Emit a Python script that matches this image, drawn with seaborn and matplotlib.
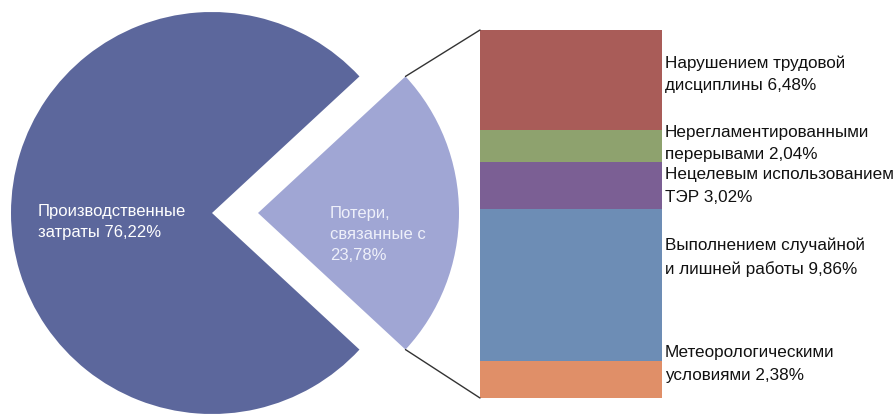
import matplotlib
matplotlib.use("Agg")
import matplotlib.pyplot as plt
from matplotlib.patches import ConnectionPatch
import numpy as np
import seaborn as sns

# --- данные ---
pie_labels = ["Потери,\nсвязанные с\n23,78%", "Производственные\nзатраты 76,22%"]
pie_values = [23.78, 76.22]
pie_colors = ["#a0a6d4", "#5c679c"]

seg_labels = [
    "Метеорологическими\nусловиями 2,38%",
    "Выполнением случайной\nи лишней работы 9,86%",
    "Нецелевым использованием\nТЭР 3,02%",
    "Нерегламентированными\nперерывами 2,04%",
    "Нарушением трудовой\nдисциплины 6,48%",
]
seg_values = [2.38, 9.86, 3.02, 2.04, 6.48]
seg_colors = ["#e08f68", "#6d8db5", "#7b5f94", "#8ea26e", "#a95c58"]
label_y = [2.2, 9.1, 13.7, 16.45, 20.9]

sns.set_theme(style="white")
plt.rcParams["font.family"] = ["Liberation Sans Narrow", "Liberation Sans", "DejaVu Sans"]

W, H = 896, 419
fig = plt.figure(figsize=(W / 100, H / 100), dpi=100)

# =============================================================
# Круговая диаграмма
# =============================================================
R = 201.0
cx, cy = 212.0, 206.0
explode = 46.0 / R
ax_pie = fig.add_axes([0, 0, 1, 1])
half = pie_values[0] / 100 * 360 / 2
wedges, _ = ax_pie.pie(pie_values, colors=pie_colors, startangle=-half,
                       explode=[explode, 0], radius=1,
                       wedgeprops=dict(linewidth=0))
ax_pie.set_xlim(-cx / R, (W - cx) / R)
ax_pie.set_ylim(-cy / R, (H - cy) / R)
ax_pie.set_aspect("auto")
ax_pie.axis("off")

ax_pie.text(-0.866, -0.045, pie_labels[1], color="white", fontsize=12,
            ha="left", va="center", linespacing=1.5)
ax_pie.text(0.587, -0.105, pie_labels[0], color="#eef0fa", fontsize=12,
            ha="left", va="center", linespacing=1.5)

# =============================================================
# Столбец с разбивкой потерь
# =============================================================
total = sum(seg_values)
ax_bar = fig.add_axes([480 / W, 21 / H, 182 / W, 368 / H])
cum = np.cumsum(seg_values)
for i in range(len(seg_values) - 1, -1, -1):
    sns.barplot(x=[0], y=[cum[i]], color=seg_colors[i], width=1,
                saturation=1, linewidth=0, ax=ax_bar)
ax_bar.set_xlim(-0.5, 0.5)
ax_bar.set_ylim(0, total)
ax_bar.axis("off")

for txt, y in zip(seg_labels, label_y):
    ax_bar.text(1.017, y, txt, fontsize=12.3, color="#111111",
                ha="left", va="center", linespacing=1.6,
                transform=ax_bar.get_yaxis_transform())

# линии-выноски
a = np.deg2rad(half)
for sgn, yb in [(1, total), (-1, 0)]:
    con = ConnectionPatch(xyA=(explode + np.cos(a), sgn * np.sin(a)), coordsA=ax_pie.transData,
                          xyB=(-0.5, yb), coordsB=ax_bar.transData,
                          color="#333333", linewidth=1)
    fig.add_artist(con)

fig.savefig("out.png", dpi=100)
